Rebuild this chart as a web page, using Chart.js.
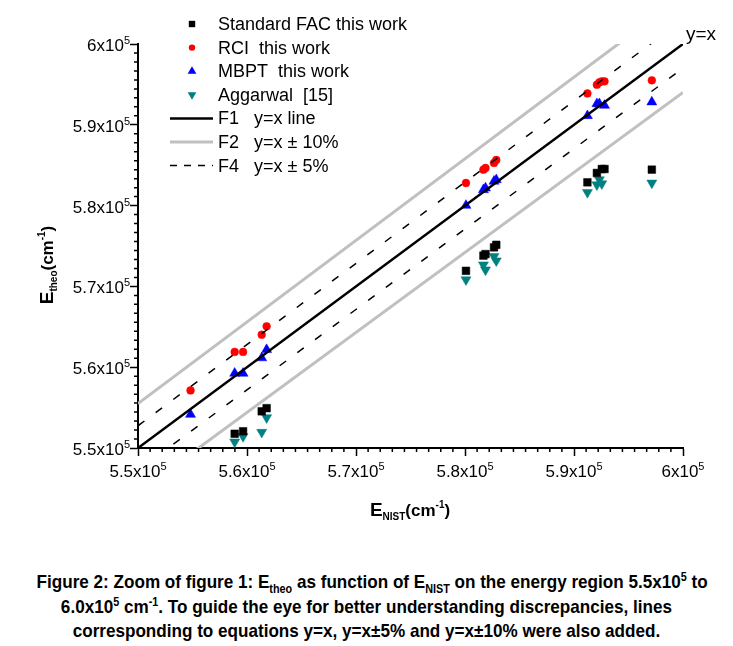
<!DOCTYPE html>
<html>
<head>
<meta charset="utf-8">
<script src="https://cdn.jsdelivr.net/npm/chart.js@4.4.0/dist/chart.umd.min.js"></script>
<style>
  html, body { margin: 0; padding: 0; background: #fff; overflow: hidden; }
  #wrap { position: relative; width: 733px; height: 548px; }
  .cap {
    font-family: "Liberation Sans Narrow", "Arial Narrow", "Liberation Sans", Arial, sans-serif;
    font-weight: bold; font-size: 19px; line-height: 24.5px;
    text-align: center; margin-top: 22px; color: #000; white-space: nowrap;
    width: 733px; transform: scaleX(0.9); transform-origin: 366px 0;
  }
  .cap sub, .cap sup { font-size: 12px; line-height: 0; }
</style>
</head>
<body>
<div id="wrap"><canvas id="Zoom_Chart" width="733" height="548"></canvas></div>
<div class="cap">Figure 2: Zoom of figure 1: E<sub>theo</sub> as function of E<sub>NIST</sub> on the energy region 5.5x10<sup>5</sup> to<br>6.0x10<sup>5</sup> cm<sup>-1</sup>. To guide the eye for better understanding discrepancies, lines<br>corresponding to equations y=x, y=x&plusmn;5% and y=x&plusmn;10% were also added.</div>
<script>
// E_NIST of the levels (cm-1)
const nist = [554820, 558870, 559640, 561350, 561800,
              580090, 581690, 581880, 582660, 582870,
              591230, 592100, 592330, 592550, 592800, 597140];
// E_theo (cm-1), null = outside the zoom
const facY  = [null, 551760, 552070, 554540, 554930,
               571930, 573810, 574000, 574830, 575150,
               582880, 584040, null, 584530, 584530, 584450];
const rciY  = [557130, 561890, 561890, 564020, 565060,
               582800, 584450, 584660, 585280, 585650,
               593880, 594960, 595260, 595380, 595380, 595510];
const mbptY = [554150, 559240, 559240, 561150, 562170,
               580020, 581960, 582170, 583010, 583200,
               591120, 592600, 592600, null, 592400, 592820];
const aggY  = [null, 550750, 551430, 551950, 553760,
               570820, 572670, 572050, 573710, 573170,
               581640, 582580, 583200, 582710, null, 582800];

// guide lines, end points
const lineX  = [550000, 600000];
const f1Y    = [550000, 600000];
const f2UpY  = [555500, 606000];
const f2LoY  = [544500, 594000];
const f4UpY  = [552750, 603000];
const f4LoY  = [547250, 597000];

// tick labels: mantissa part, exponent drawn raised
const tickValues = [550000, 560000, 570000, 580000, 590000, 600000];
const tickLabels = ['5.5x10', '5.6x10', '5.7x10', '5.8x10', '5.9x10', '6x10'];
const tickExp = '5';

const FONT = '"Liberation Sans", Arial, sans-serif';

function pts(xs, ys){
  let out = [];
  for(let i=0; i<xs.length; i++){
    if(ys[i] !== null) out.push({x: xs[i], y: ys[i]});
  }
  return out;
}

function marker(name, color, style, radius, rot){
  return {
    label: name, data: null, showLine: false,
    pointStyle: style, pointRotation: rot || 0, pointRadius: radius,
    pointBackgroundColor: color, pointBorderColor: color, pointBorderWidth: 0.5,
    order: 1
  };
}
function guide(name, data, color, width, dash){
  return {
    label: name, data: data, showLine: true, pointRadius: 0,
    borderColor: color, borderWidth: width, borderDash: dash || [],
    order: 0
  };
}

const dsFac  = marker('Standard FAC this work', '#000000', 'rect', 5.4);
dsFac.data = pts(nist, facY);
const dsRci  = marker('RCI  this work', '#ff0000', 'circle', 3.9);
dsRci.data = pts(nist, rciY);
const dsMbpt = marker('MBPT  this work', '#0000ff', 'triangle', 5.8);
dsMbpt.data = pts(nist, mbptY);
const dsAgg  = marker('Aggarwal  [15]', '#008080', 'triangle', 5.8, 180);
dsAgg.data = pts(nist, aggY);

// legend rows: [text, kind, color, style, rot]
const legendRows = [
  ['Standard FAC this work', 'pt', '#000000', 'rect', 0],
  ['RCI  this work', 'pt', '#ff0000', 'circle', 0],
  ['MBPT  this work', 'pt', '#0000ff', 'triangle', 0],
  ['Aggarwal  [15]', 'pt', '#008080', 'triangle', 180],
  ['F1   y=x line', 'line', '#000000', 2.5, null],
  ['F2   y=x ± 10%', 'line', '#c0c0c0', 3, null],
  ['F4   y=x ± 5%', 'line', '#000000', 1.5, [7, 7]]
];

function drawMark(ctx, style, x, y, r, rot){
  ctx.beginPath();
  if(style === 'rect'){
    ctx.rect(x - r, y - r, 2*r, 2*r);
  } else if(style === 'circle'){
    ctx.arc(x, y, r, 0, Math.PI*2);
  } else {
    let s = rot ? -1 : 1;
    ctx.moveTo(x, y - s*r);
    ctx.lineTo(x + r*0.87, y + s*r*0.5);
    ctx.lineTo(x - r*0.87, y + s*r*0.5);
    ctx.closePath();
  }
  ctx.fill();
}

function drawRich(ctx, parts, cx, y){
  let w = 0;
  parts.forEach(function(p){ ctx.font = p[1]; w += ctx.measureText(p[0]).width; });
  let x = cx - w/2;
  parts.forEach(function(p){
    ctx.font = p[1];
    ctx.fillText(p[0], x, y + p[2]);
    x += ctx.measureText(p[0]).width;
  });
  return w;
}

function labelParts(i){
  return [
    [tickLabels[i], '17px ' + FONT, 0],
    [tickExp, '11px ' + FONT, -7]
  ];
}

const extras = {
  id: 'extras',
  afterDraw(chart){
    const ctx = chart.ctx, xs = chart.scales.x, ys = chart.scales.y;
    ctx.save();

    // minor ticks (8 between majors)
    ctx.strokeStyle = '#000'; ctx.lineWidth = 1.5;
    ctx.beginPath();
    for(let m=0; m<tickValues.length-1; m++){
      for(let j=1; j<9; j++){
        let v = tickValues[m] + j*10000/9;
        let px = xs.getPixelForValue(v);
        ctx.moveTo(px, xs.top); ctx.lineTo(px, xs.top + 4);
        let py = ys.getPixelForValue(v);
        ctx.moveTo(ys.right, py); ctx.lineTo(ys.right - 4, py);
      }
    }
    ctx.stroke();

    // tick labels
    ctx.fillStyle = '#000';
    ctx.textBaseline = 'alphabetic';
    for(let i=0; i<tickValues.length; i++){
      let px = xs.getPixelForValue(tickValues[i]);
      drawRich(ctx, labelParts(i), px, xs.top + 29);
      let py = ys.getPixelForValue(tickValues[i]);
      ctx.font = '17px ' + FONT;
      let w1 = ctx.measureText(tickLabels[i]).width;
      ctx.font = '11px ' + FONT;
      let w2 = ctx.measureText(tickExp).width;
      drawRich(ctx, labelParts(i), ys.right - 8 - (w1 + w2)/2, py + 7);
    }

    // legend
    ctx.textBaseline = 'middle';
    for(let i=0; i<legendRows.length; i++){
      let r = legendRows[i];
      let y = 24 + i*23.6;
      if(r[1] === 'pt'){
        ctx.fillStyle = r[2];
        drawMark(ctx, r[3], 192, y, r[3] === 'triangle' ? 5 : 3.2, r[4]);
      } else {
        ctx.strokeStyle = r[2]; ctx.lineWidth = r[3];
        ctx.setLineDash(r[4] || []);
        ctx.beginPath(); ctx.moveTo(170, y); ctx.lineTo(213, y); ctx.stroke();
        ctx.setLineDash([]);
      }
      ctx.fillStyle = '#000';
      ctx.font = '18px ' + FONT;
      ctx.fillText(r[0], 218, y + 1);
    }

    // y=x label
    ctx.textBaseline = 'alphabetic';
    ctx.font = '19px ' + FONT;
    ctx.fillText('y=x', 686, 40);

    // axis titles
    drawRich(ctx, [
      ['E', 'bold 19px ' + FONT, 0],
      ['NIST', 'bold 10px ' + FONT, 4],
      ['(cm', 'bold 17px ' + FONT, 0],
      ['-1', 'bold 10px ' + FONT, -8],
      [')', 'bold 17px ' + FONT, 0]
    ], 410, 516);

    ctx.translate(53, 265);
    ctx.rotate(-Math.PI/2);
    drawRich(ctx, [
      ['E', 'bold 19px ' + FONT, 0],
      ['theo', 'bold 10px ' + FONT, 4],
      ['(cm', 'bold 17px ' + FONT, 0],
      ['-1', 'bold 10px ' + FONT, -8],
      [')', 'bold 17px ' + FONT, 0]
    ], 0, 0);
    ctx.restore();
  }
};

function axis(pos){
  return {
    type: 'linear', position: pos, min: 550000, max: 600000,
    border: { display: true, color: '#000', width: 2 },
    grid: { display: true, drawOnChartArea: false, drawTicks: true, tickLength: 8, tickColor: '#000', tickWidth: 1.5 },
    ticks: { stepSize: 10000, autoSkip: false, display: false },
    title: { display: false }
  };
}

const xAxis = axis('bottom');
xAxis.afterFit = function(scale){ scale.height = 100; };
const yAxis = axis('left');
yAxis.afterFit = function(scale){ scale.width = 138; };

new Chart(document.getElementById('Zoom_Chart').getContext('2d'), {
  type: 'scatter',
  data: {
    datasets: [
      guide('F1  y=x line', pts(lineX, f1Y), '#000000', 2.5),
      guide('F2  y=x + 10%', pts(lineX, f2UpY), '#c0c0c0', 3),
      guide('F2  y=x - 10%', pts(lineX, f2LoY), '#c0c0c0', 3),
      guide('F4  y=x + 5%', pts(lineX, f4UpY), '#000000', 1.5, [8, 14]),
      guide('F4  y=x - 5%', pts(lineX, f4LoY), '#000000', 1.5, [8, 14]),
      dsFac, dsRci, dsMbpt, dsAgg
    ]
  },
  options: {
    responsive: false,
    animation: false,
    layout: { padding: { left: 0, top: 44, right: 50, bottom: 0 } },
    plugins: { legend: { display: false }, tooltip: { enabled: false } },
    scales: { x: xAxis, y: yAxis }
  },
  plugins: [extras]
});
</script>
</body>
</html>
